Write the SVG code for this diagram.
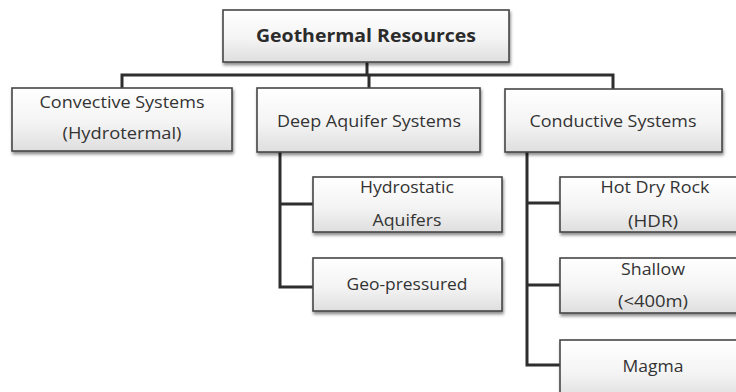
<svg xmlns="http://www.w3.org/2000/svg" width="736" height="392" viewBox="0 0 736 392">
<defs>
<linearGradient id="g" x1="0" y1="0" x2="0" y2="1">
<stop offset="0" stop-color="#ffffff"/>
<stop offset="0.55" stop-color="#f4f4f4"/>
<stop offset="1" stop-color="#dedede"/>
</linearGradient>
<filter id="sh" x="-5%" y="-10%" width="115%" height="130%">
<feDropShadow dx="1" dy="2.5" stdDeviation="1.5" flood-color="#000" flood-opacity="0.45"/>
</filter>
</defs>
<style>
.box{fill:url(#g);stroke:#474747;stroke-width:1.6;filter:url(#sh)}
.t{font-family:"Open Sans","Liberation Sans",Arial,sans-serif;font-size:15.5px;fill:#333;text-anchor:middle}
.tb{font-family:"Open Sans","Liberation Sans",Arial,sans-serif;font-size:18.5px;font-weight:bold;fill:#2b2b2b;text-anchor:middle}
.c{fill:none;stroke:#2e2e2e;stroke-width:3;stroke-linejoin:miter}
</style>
<rect width="736" height="392" fill="#ffffff"/>
<g id="connectors">
<path class="c" d="M367,62 V75 M122,88 V75 H613 V89 M369,75 V88"/>
<path class="c" d="M280,152 V287 H313 M280,204 H313"/>
<path class="c" d="M527,152 V365 H560 M527,203 H560 M527,285 H560"/>
</g>
<g id="geothermal">
<rect class="box" x="223" y="10" width="286" height="52"/>
<text class="tb" x="366" y="42" textLength="220" lengthAdjust="spacingAndGlyphs">Geothermal Resources</text>
</g>
<g id="convective">
<rect class="box" x="12" y="88" width="220" height="63"/>
<text class="t" x="122" y="108" textLength="165" lengthAdjust="spacingAndGlyphs">Convective Systems</text>
<text class="t" x="122" y="139" textLength="119" lengthAdjust="spacingAndGlyphs">(Hydrotermal)</text>
</g>
<g id="deep-aquifer">
<rect class="box" x="257" y="88" width="223" height="64"/>
<text class="t" x="369" y="127" textLength="184" lengthAdjust="spacingAndGlyphs">Deep Aquifer Systems</text>
</g>
<g id="conductive">
<rect class="box" x="505" y="89" width="217" height="63"/>
<text class="t" x="613" y="127" textLength="167" lengthAdjust="spacingAndGlyphs">Conductive Systems</text>
</g>
<g id="hydrostatic">
<rect class="box" x="313" y="177" width="189" height="55"/>
<text class="t" x="407" y="193" textLength="94" lengthAdjust="spacingAndGlyphs">Hydrostatic</text>
<text class="t" x="407" y="226" textLength="69" lengthAdjust="spacingAndGlyphs">Aquifers</text>
</g>
<g id="geo-pressured">
<rect class="box" x="313" y="258" width="189" height="53"/>
<text class="t" x="407" y="290" textLength="121" lengthAdjust="spacingAndGlyphs">Geo-pressured</text>
</g>
<g id="hdr">
<rect class="box" x="560" y="177" width="186" height="55"/>
<text class="t" x="655" y="193" textLength="109" lengthAdjust="spacingAndGlyphs">Hot Dry Rock</text>
<text class="t" x="653" y="227" textLength="50" lengthAdjust="spacingAndGlyphs">(HDR)</text>
</g>
<g id="shallow">
<rect class="box" x="560" y="258" width="186" height="55"/>
<text class="t" x="653" y="275" textLength="64" lengthAdjust="spacingAndGlyphs">Shallow</text>
<text class="t" x="653" y="307" textLength="70" lengthAdjust="spacingAndGlyphs">(&lt;400m)</text>
</g>
<g id="magma">
<rect class="box" x="560" y="340" width="186" height="60"/>
<text class="t" x="653" y="372" textLength="61" lengthAdjust="spacingAndGlyphs">Magma</text>
</g>
</svg>
